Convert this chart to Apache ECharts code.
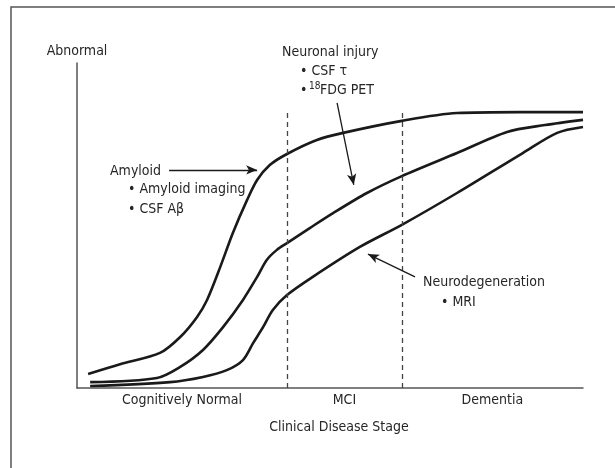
<!DOCTYPE html>
<html>
<head>
<meta charset="utf-8">
<script src="https://cdn.jsdelivr.net/npm/echarts@6/dist/echarts.min.js"></script>
<style>
  html, body { margin: 0; padding: 0; background: #fff; }
  #chart { width: 615px; height: 468px; }
</style>
</head>
<body>
<div id="chart"></div>
<script>
// stages along the x axis (0..100 of disease course)
const stages = ["Cognitively Normal", "MCI", "Dementia"];
const stageBounds = [0, 41.5, 64.2, 100];
const dashTop = 84.9;

// biomarker curves (x = disease course, y = abnormality)
const amyloidX = [2.2, 8.5, 16.4, 20.4, 23.7, 25.7, 28.3, 30.8, 33.6, 35.6, 38.1, 41.5, 47.4, 52.6, 64.2, 75.1, 87.5, 100];
const amyloidY = [4.3, 7.3, 10.8, 15.7, 21.8, 27.1, 37.2, 47.7, 57.8, 64, 68.6, 72, 76.3, 78.5, 82.2, 84.6, 84.9, 84.9];

const injuryX = [2.6, 15.8, 20.4, 24.9, 28.9, 32.8, 35.6, 37.5, 39.5, 41.5, 46, 50.6, 57.3, 64.2, 75.1, 85, 92.5, 100];
const injuryY = [1.8, 3.1, 6.5, 11.7, 18.8, 27.1, 34.2, 39.4, 42.5, 44.6, 49.2, 53.8, 60, 65.2, 72.3, 78.8, 80.9, 82.5];

const neuroX = [2.6, 18.4, 24.9, 29.6, 32.8, 34.8, 36.8, 38.7, 41.5, 46.6, 55.9, 64.2, 75.1, 88.1, 94.9, 100];
const neuroY = [0.6, 1.8, 3.4, 5.5, 8.6, 13.8, 18.8, 24, 28.6, 34.2, 43.4, 50.2, 60, 72.3, 78.5, 80.3];

// label arrows [from, to] in data units
const arrows = [
  [[18.2, 67.1], [35.6, 67.1]],
  [[51.4, 87.7], [54.7, 62.5]],
  [[66.8, 34.2], [57.5, 41.2]]
];

const FONT = '"Liberation Sans Narrow", "Arial Narrow", "DejaVu Sans Condensed", sans-serif';
const FS = 14;
const TXT = "#262626";

const zip = (xs, ys) => xs.map((x, i) => [x, ys[i]]);

const chart = echarts.init(document.getElementById("chart"));

function curve(name, xs, ys) {
  return {
    name: name,
    type: "line",
    data: zip(xs, ys),
    smooth: 0.3,
    showSymbol: false,
    lineStyle: { color: "#1a1a1a", width: 2.6 },
    z: 3
  };
}

function txt(x, y, text, size) {
  return {
    type: "text",
    x: x,
    y: y,
    style: {
      text: text,
      font: (size || FS) + "px " + FONT,
      fill: TXT,
      verticalAlign: "middle"
    }
  };
}

const option = {
  animation: false,
  grid: { left: 77, right: 32, top: 63, bottom: 80 },
  xAxis: {
    type: "value",
    min: 0,
    max: 100,
    name: "Clinical Disease Stage",
    nameLocation: "middle",
    nameGap: 32,
    nameTextStyle: { fontFamily: FONT, fontSize: FS, color: TXT, padding: [0, 0, 0, 18] },
    axisLine: { show: true, lineStyle: { color: "#555", width: 1.5 } },
    axisTick: { show: false },
    axisLabel: { show: false },
    splitLine: { show: false }
  },
  yAxis: {
    type: "value",
    min: 0,
    max: 100,
    name: "Abnormal",
    nameLocation: "end",
    nameGap: 5,
    nameTextStyle: { fontFamily: FONT, fontSize: FS, color: TXT },
    axisLine: { show: true, lineStyle: { color: "#555", width: 1.5 } },
    axisTick: { show: false },
    axisLabel: { show: false },
    splitLine: { show: false }
  },
  graphic: [
    {
      type: "rect",
      shape: { x: 11, y: 7, width: 700, height: 600 },
      style: { fill: "none", stroke: "#555", lineWidth: 1.5 },
      silent: true
    },
    txt(110, 171, "Amyloid"),
    txt(128, 189, "• Amyloid imaging"),
    txt(128, 209, "• CSF Aβ"),
    txt(282, 52, "Neuronal injury"),
    txt(300, 71, "• CSF τ"),
    txt(300, 90, "•"),
    txt(309, 86, "18", 10),
    txt(320, 90, "FDG PET"),
    txt(423, 282, "Neurodegeneration"),
    txt(441, 302, "• MRI")
  ],
  series: [
    curve("Amyloid", amyloidX, amyloidY),
    curve("Neuronal injury", injuryX, injuryY),
    curve("Neurodegeneration", neuroX, neuroY),
    {
      name: "stages",
      type: "line",
      data: [],
      markArea: {
        silent: true,
        itemStyle: { color: "rgba(0,0,0,0)" },
        label: {
          position: "bottom",
          distance: 5,
          fontFamily: FONT,
          fontSize: FS,
          color: TXT
        },
        data: stages.map((s, i) => [
          { name: s, coord: [stageBounds[i], 0] },
          { coord: [stageBounds[i + 1], 0.01] }
        ])
      },
      markLine: {
        silent: true,
        symbol: "none",
        label: { show: false },
        lineStyle: { color: "#444", type: [5, 4], width: 1.3 },
        data: stageBounds.slice(1, 3).map((b) => [
          { coord: [b, 0] },
          { coord: [b, dashTop] }
        ])
      }
    },
    {
      name: "arrows",
      type: "line",
      data: [],
      markLine: {
        silent: true,
        symbol: ["none", "arrow"],
        symbolSize: [7, 11],
        label: { show: false },
        lineStyle: { color: "#1a1a1a", type: "solid", width: 1.3 },
        data: arrows.map((a) => [{ coord: a[0] }, { coord: a[1] }])
      }
    }
  ]
};

chart.setOption(option);
</script>
</body>
</html>
